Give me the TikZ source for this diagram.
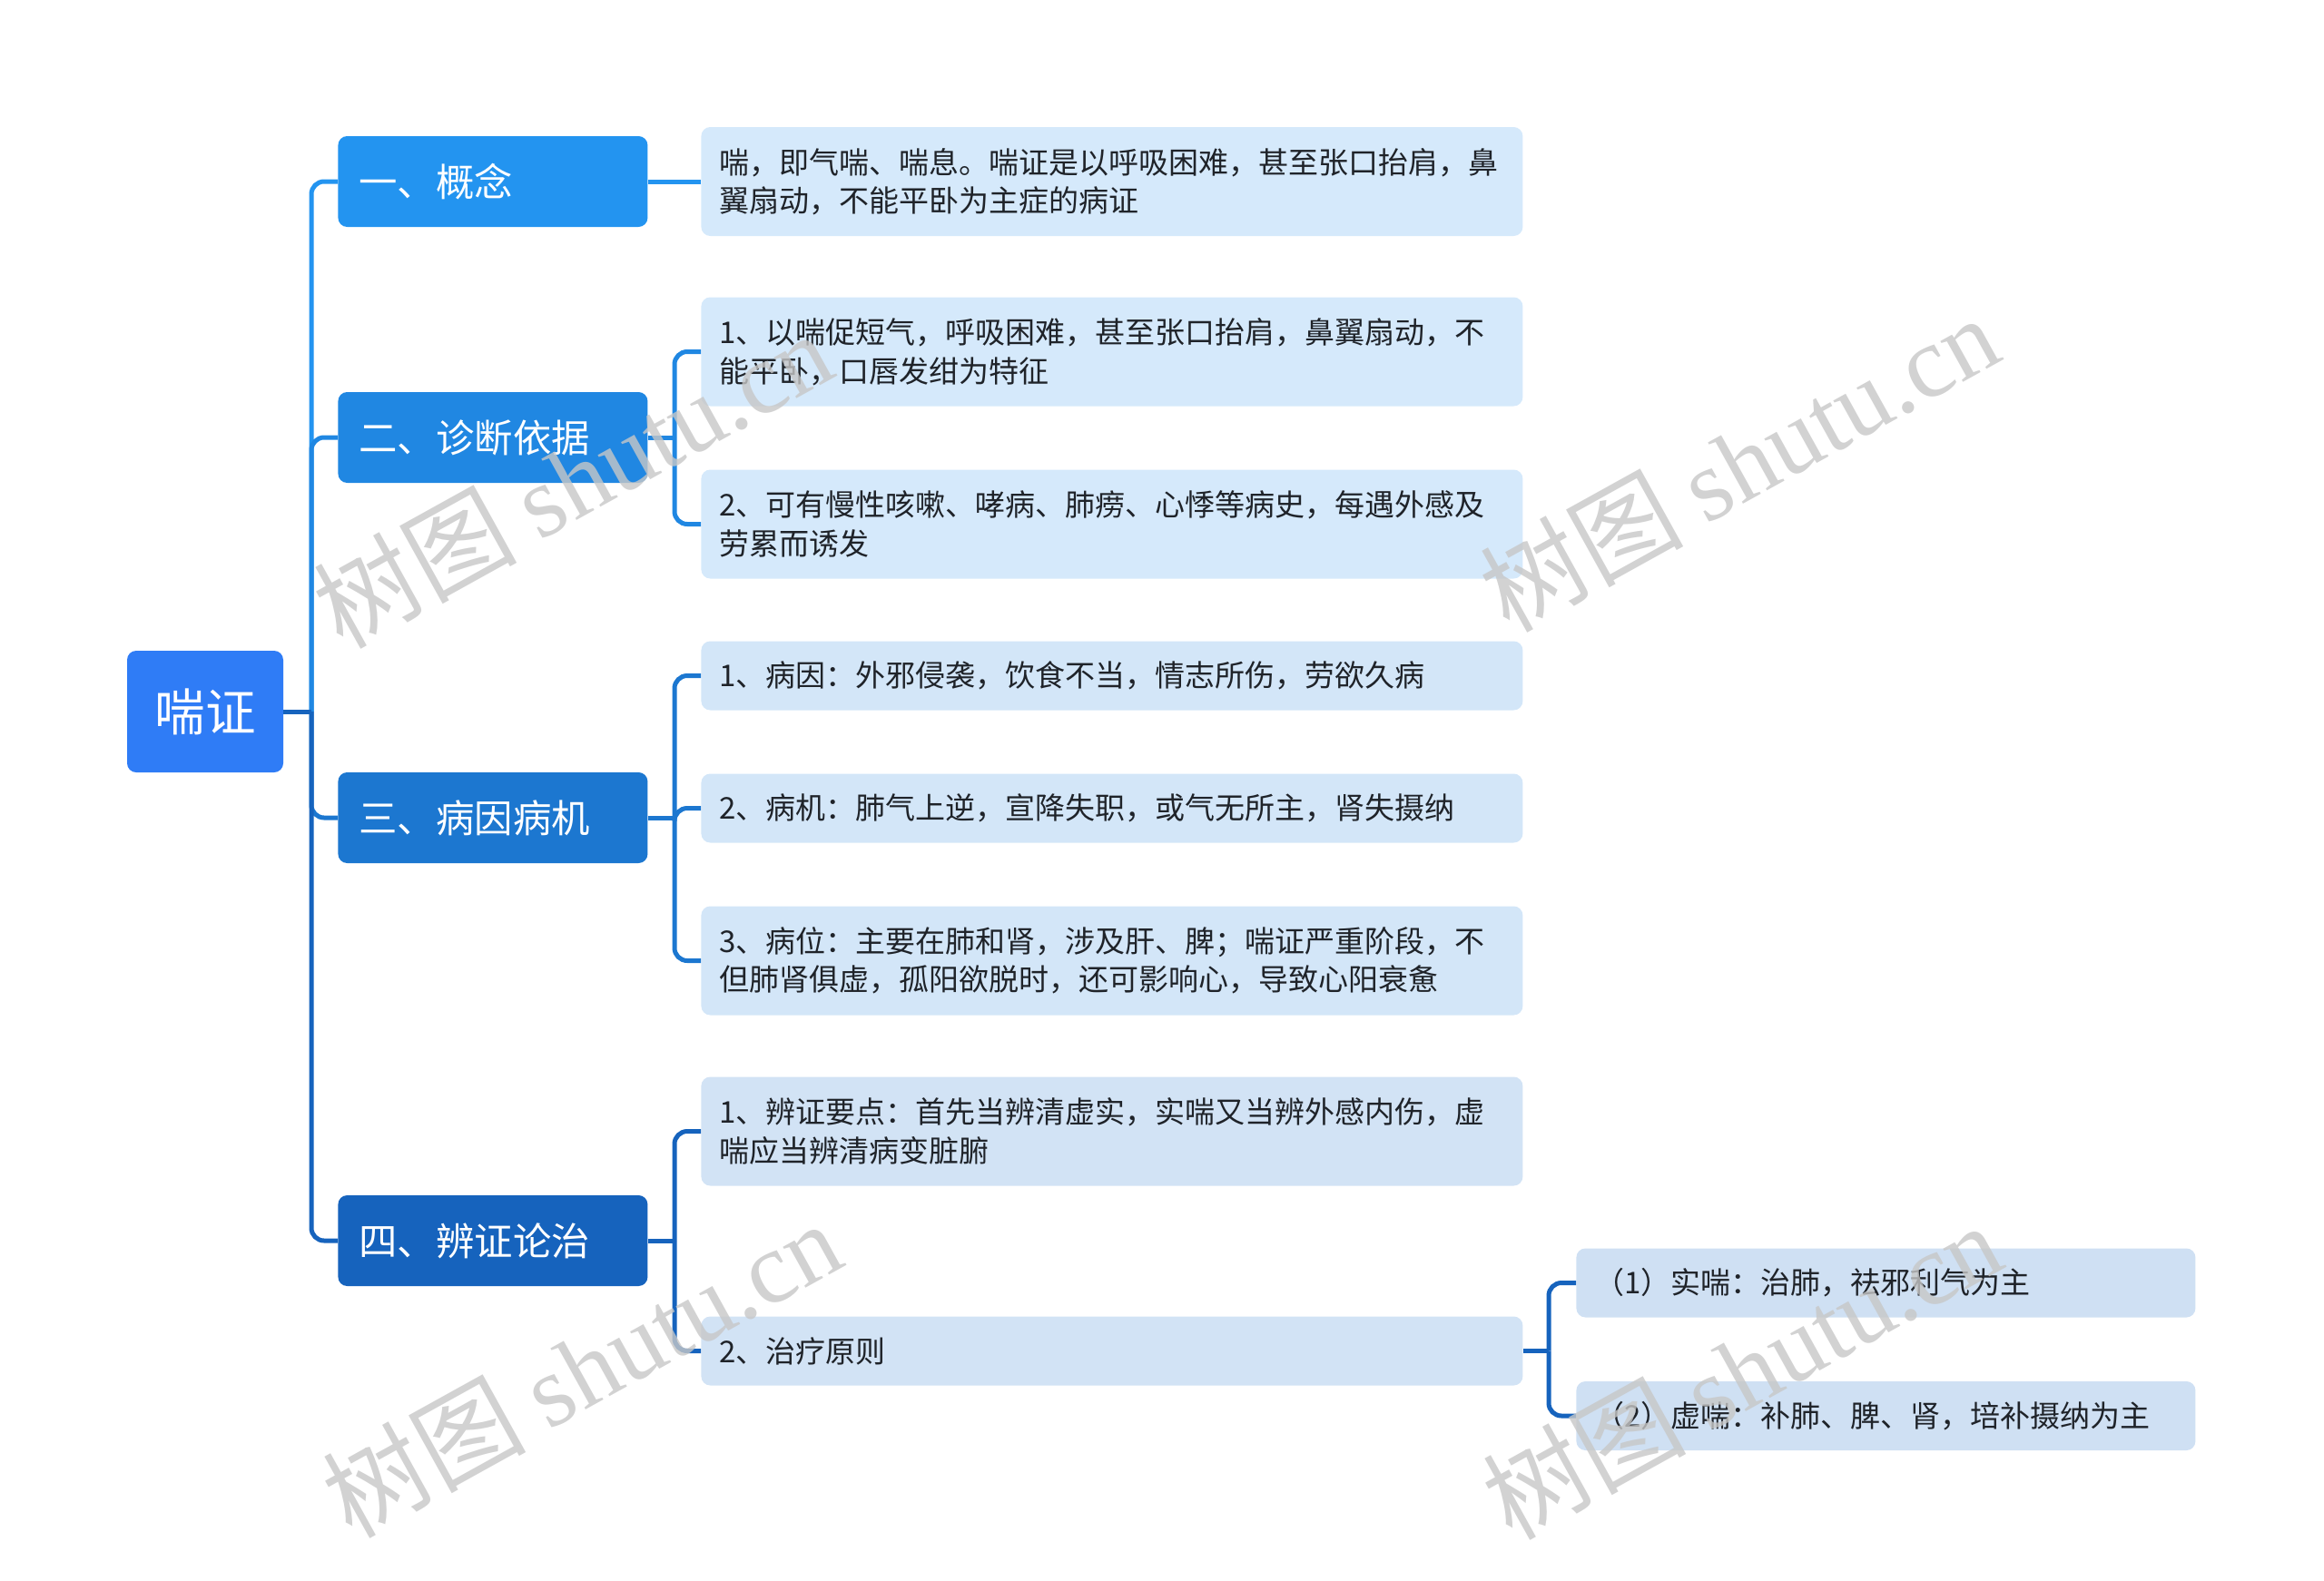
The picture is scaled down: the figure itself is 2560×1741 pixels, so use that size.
\documentclass[tikz,border=0pt]{standalone}
\usepackage{fontspec}
\setmainfont{Noto Sans CJK SC}
\newfontfamily\wmcjk{Noto Sans CJK SC}
\newfontfamily\wmlat{Liberation Serif}
\definecolor{rootc}{HTML}{2F7CF6}
\definecolor{ca}{HTML}{2394F0}
\definecolor{cb}{HTML}{2087E2}
\definecolor{cc}{HTML}{1C77D0}
\definecolor{cd}{HTML}{1663BD}
\definecolor{fa}{HTML}{D5E9FB}
\definecolor{fb}{HTML}{D3E6F8}
\definecolor{fc}{HTML}{D2E3F5}
\definecolor{fd}{HTML}{CFE0F3}
\definecolor{txt}{HTML}{1F2329}
\begin{document}
\begin{tikzpicture}[x=0.5pt,y=-0.5pt,
  rootbox/.style={fill=rootc, rounded corners=5pt, minimum width=86pt, minimum height=67pt, inner sep=0pt, text=white, font=\fontsize{27.8pt}{32pt}\selectfont},
  lone/.style={rounded corners=5pt, anchor=west, minimum height=50pt, inner xsep=11.5pt, inner ysep=0pt, text width=147.5pt, align=left, text=white, font=\fontsize{21.2pt}{25pt}\selectfont},
  ltwo/.style={rounded corners=5pt, anchor=west, inner xsep=10pt, inner ysep=0pt, text width=432.5pt, align=left, text=txt, font=\fontsize{16.5pt}{21.2pt}\selectfont},
  lthree/.style={rounded corners=5pt, anchor=west, inner xsep=10pt, inner ysep=0pt, text width=321pt, align=left, text=txt, minimum height=38pt, font=\fontsize{16.5pt}{21.2pt}\selectfont},
  tall/.style={minimum height=60pt},
  short/.style={minimum height=38pt},
  conn/.style={line width=2.5pt},
  rc/.style={conn, rounded corners=7pt},
  wm/.style={rotate=29, text=black!22, opacity=0.8, inner sep=0pt}
]
\useasboundingbox (0,0) rectangle (2560,1741);

% root
\node[rootbox] (root) at (226,784) {喘证};

% level 1
\node[lone, fill=ca] (la) at (372,200) {一、概念};
\node[lone, fill=cb] (lb) at (372,482) {二、诊断依据};
\node[lone, fill=cc] (lc) at (372,901) {三、病因病机};
\node[lone, fill=cd] (ld) at (372,1367) {四、辨证论治};

% level 2
\node[ltwo, tall, fill=fa] (a1) at (772,200) {喘，即气喘、喘息。喘证是以呼吸困难，甚至张口抬肩，鼻\\翼扇动，不能平卧为主症的病证};
\node[ltwo, tall, fill=fa] (b1) at (772,387.5) {1、以喘促短气，呼吸困难，甚至张口抬肩，鼻翼扇动，不\\能平卧，口唇发绀为特征};
\node[ltwo, tall, fill=fa] (b2) at (772,577.5) {2、可有慢性咳嗽、哮病、肺痨、心悸等病史，每遇外感及\\劳累而诱发};
\node[ltwo, short, fill=fb] (c1) at (772,744.5) {1、病因：外邪侵袭，饮食不当，情志所伤，劳欲久病};
\node[ltwo, short, fill=fb] (c2) at (772,890.5) {2、病机：肺气上逆，宣降失职，或气无所主，肾失摄纳};
\node[ltwo, tall, fill=fb] (c3) at (772,1058.5) {3、病位：主要在肺和肾，涉及肝、脾；喘证严重阶段，不\\但肺肾俱虚，孤阳欲脱时，还可影响心，导致心阳衰惫};
\node[ltwo, tall, fill=fc] (d1) at (772,1246.5) {1、辨证要点：首先当辨清虚实，实喘又当辨外感内伤，虚\\喘应当辨清病变脏腑};
\node[ltwo, short, fill=fc] (d2) at (772,1488.5) {2、治疗原则};

% level 3
\node[lthree, fill=fd] (e1) at (1736,1413.5) {（1）实喘：治肺，祛邪利气为主};
\node[lthree, fill=fd] (e2) at (1736,1560) {（2）虚喘：补肺、脾、肾，培补摄纳为主};

% connectors root -> level 1
\coordinate (t0) at (343,784);
\draw[rc, ca] (t0) |- (la.west);
\draw[rc, cb] (t0) |- (lb.west);
\draw[rc, cc] (t0) |- (lc.west);
\draw[rc, cd] (t0) |- (ld.west);
\draw[conn, cd] (root.east) -- (t0);

% level 1 -> level 2
\draw[conn, ca] (la.east) -- (a1.west);

\coordinate (jb) at (743,482);
\draw[conn, cb] (lb.east) -- (jb);
\draw[rc, cb] (jb) |- (b1.west);
\draw[rc, cb] (jb) |- (b2.west);

\coordinate (jc) at (743,901);
\draw[conn, cc] (lc.east) -- (jc);
\draw[rc, cc] (jc) |- (c1.west);
\draw[rc, cc] (jc) |- (c2.west);
\draw[rc, cc] (jc) |- (c3.west);

\coordinate (jd) at (743,1367);
\draw[conn, cd] (ld.east) -- (jd);
\draw[rc, cd] (jd) |- (d1.west);
\draw[rc, cd] (jd) |- (d2.west);

% level 2 -> level 3
\coordinate (je) at (1706,1488.5);
\draw[conn, cd] (d2.east) -- (je);
\draw[rc, cd] (je) |- (e1.west);
\draw[rc, cd] (je) |- (e2.west);

% watermarks
\node[wm] (w1) at (630,528) {\fontsize{56pt}{60pt}\wmcjk 树图 \wmlat shutu.cn};
\node[wm] (w2) at (1915,510) {\fontsize{56pt}{60pt}\wmcjk 树图 \wmlat shutu.cn};
\node[wm] (w3) at (640,1508) {\fontsize{56pt}{60pt}\wmcjk 树图 \wmlat shutu.cn};
\node[wm] (w4) at (1918,1510) {\fontsize{56pt}{60pt}\wmcjk 树图 \wmlat shutu.cn};
\end{tikzpicture}
\end{document}
